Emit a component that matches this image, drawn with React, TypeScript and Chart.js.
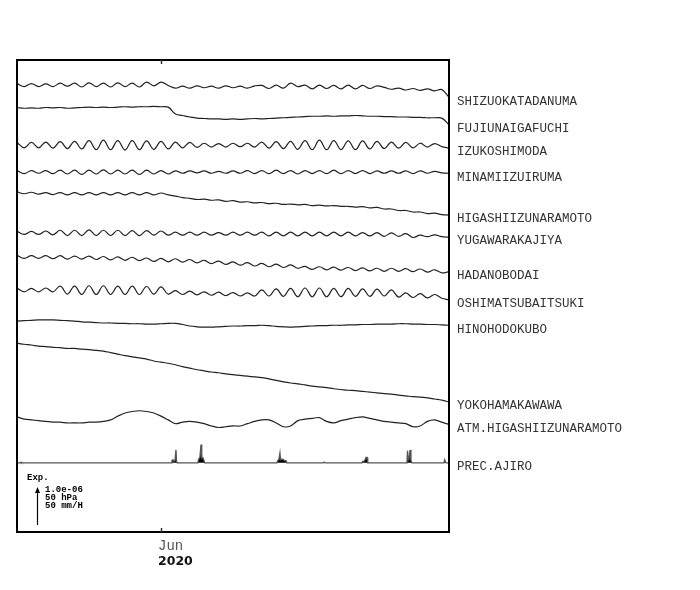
import React, { useEffect, useRef } from "react";
import { Chart, registerables } from "chart.js";

Chart.register(...registerables);

// Time axis: days relative to 1 June 2020, sampled every half day
const days = [
  -10, -9.5, -9, -8.5, -8, -7.5, -7, -6.5, -6, -5.5,
  -5, -4.5, -4, -3.5, -3, -2.5, -2, -1.5, -1, -0.5,
  0, 0.5, 1, 1.5, 2, 2.5, 3, 3.5, 4, 4.5,
  5, 5.5, 6, 6.5, 7, 7.5, 8, 8.5, 9, 9.5,
  10, 10.5, 11, 11.5, 12, 12.5, 13, 13.5, 14, 14.5,
  15, 15.5, 16, 16.5, 17, 17.5, 18, 18.5, 19, 19.5,
  20,
];

const monthTicks = [{ value: 0, label: "Jun" }];
const yearLabel = "2020";

const stationNames = [
  "SHIZUOKATADANUMA",
  "FUJIUNAIGAFUCHI",
  "IZUKOSHIMODA",
  "MINAMIIZUIRUMA",
  "HIGASHIIZUNARAMOTO",
  "YUGAWARAKAJIYA",
  "HADANOBODAI",
  "OSHIMATSUBAITSUKI",
  "HINOHODOKUBO",
  "YOKOHAMAKAWAWA",
  "ATM.HIGASHIIZUNARAMOTO",
  "PREC.AJIRO",
];

// Strain changes, in units of 1e-8
const shizuoka = [4, -4, 4, -4, 3, -4, 5, -3, 5, -5, 6, -4, 5, -5, 6, -4, 5, -5, 8, -2, 8, -1, -8, -3, -8, -2, -7, -3, -8, -2, -7, -3, -8, -2, -1, -9, 0, -8, 5, -4, 0, -10, 0, -9, -1, -10, 0, -10, -1, -9, -2, -6, -11, -8, -13, -9, -14, -10, -15, -12, -32];
const fujiunai = [1, -1, 0, -1, 1, 0, 1, -1, 0, 1, 2, 1, 2, 1, 2, 3, 2, 3, 3, 4, 3, 2, -16, -20, -24, -27, -28, -29, -29, -30, -29, -30, -29, -28, -29, -28, -27, -26, -25, -24, -23, -22, -22, -21, -22, -21, -21, -20, -21, -22, -22, -23, -23, -24, -24, -25, -25, -26, -26, -27, -45];
const izukoshimoda = [7, -7, 7, -7, 8, -8, 9, -9, 10, -10, 12, -12, 13, -12, 12, -13, 12, -12, 11, -11, 10, -10, 8, -7, 7, -6, 5, -5, 4, -5, 5, -4, 5, -5, 8, -8, 9, -9, 10, -11, 12, -12, 13, -12, 12, -12, 11, -12, 11, -10, 10, -9, 8, -8, 7, -7, 5, -5, 4, -4, -8];
const minamiizu = [4, -4, 4, -3, 4, -4, 5, -5, 5, -6, 5, -5, 6, -5, 5, -5, 5, -6, 5, -5, 4, -5, 3, -3, 3, -2, 3, -3, 2, -3, 3, -3, 4, -4, 4, -4, 5, -4, 4, -5, 4, -4, 4, -4, 5, -4, 4, -4, 4, -4, 3, -3, 3, -3, 3, -4, 3, -3, 2, -2, -3];
const higashiizu = [5, 0, 4, -1, 3, -2, 3, -3, 3, -3, 3, -3, 3, -3, 3, -3, 3, -3, 3, -3, 2, -3, -6, -10, -12, -15, -14, -17, -16, -20, -18, -22, -21, -24, -23, -26, -25, -28, -27, -29, -28, -31, -30, -32, -31, -33, -33, -35, -34, -37, -36, -40, -40, -44, -44, -48, -48, -52, -51, -55, -56];
const yugawara = [4, -4, 4, -4, 5, -5, 7, -7, 7, -7, 8, -7, 7, -7, 7, -7, 6, -7, 6, -6, 5, -6, 2, -6, 2, -6, 2, -6, 1, -6, 2, -6, 2, -6, 2, -8, 2, -8, 2, -8, 2, -8, 2, -8, 2, -8, 2, -8, 1, -8, 1, -9, 0, -9, -2, -12, -6, -10, -5, -10, -11];
const hadano = [4, -4, 3, -4, 3, -5, 3, -6, 2, -6, 2, -7, 1, -8, 0, -9, -1, -10, -3, -12, -4, -13, -5, -14, -7, -16, -9, -18, -11, -20, -13, -22, -15, -24, -17, -26, -19, -28, -21, -30, -25, -33, -26, -34, -27, -35, -28, -36, -29, -37, -30, -38, -30, -38, -31, -39, -32, -40, -34, -42, -39];
const oshima = [5, -5, 4, -5, 5, -5, 10, -11, 10, -12, 11, -12, 11, -12, 10, -12, 10, -12, 9, -11, 8, -11, -2, -12, -3, -13, -5, -14, -6, -15, -7, -16, -8, -16, 0, -16, 3, -17, 4, -18, 5, -18, 5, -18, 4, -18, 4, -17, 3, -17, 2, -16, 0, -19, -8, -20, -10, -21, -12, -22, -26];
const hinohodokubo = [0, 1, 2, 3, 3, 3, 2, 1, 0, -2, -3, -4, -5, -5, -6, -6, -7, -7, -8, -8, -7, -6, -6, -9, -13, -15, -16, -16, -15, -14, -13, -13, -12, -12, -11, -12, -14, -15, -16, -15, -14, -13, -12, -12, -11, -11, -10, -10, -9, -9, -8, -8, -8, -7, -7, -8, -8, -9, -9, -10, -11];
const yokohama = [0, -3, -5, -8, -9, -11, -12, -14, -14, -16, -17, -19, -21, -25, -29, -33, -36, -39, -42, -47, -50, -53, -57, -62, -66, -70, -73, -76, -78, -81, -83, -85, -87, -89, -91, -94, -98, -102, -105, -107, -110, -113, -115, -117, -120, -122, -124, -125, -127, -129, -131, -133, -134, -137, -139, -141, -142, -144, -147, -150, -155];

// Atmospheric pressure change, hPa
const atmPressure = [0, -3, -4, -5, -6, -7, -7, -8, -8, -8, -7, -7, -6, -4, 1, 5, 7, 8, 7, 5, 1, -4, -9, -7, -6, -7, -9, -12, -14, -13, -12, -12, -9, -6, -4, -4, -8, -13, -12, -5, -3, -2, -1, -6, -8, -5, -3, -1, 0, -2, -4, -6, -7, -8, -9, -13, -12, -6, -4, -7, -10];

// Precipitation, mm/H (time in days from 1 June)
const precipDays = [-10, -9.76, -9.72, -9.68, 0.7, 0.76, 0.83, 0.9, 0.97, 1.04, 1.08, 1.12, 2.55, 2.62, 2.7, 2.78, 2.83, 2.9, 2.97, 3.03, 8.05, 8.1, 8.18, 8.26, 8.3, 8.4, 8.5, 8.6, 8.68, 8.73, 11.28, 11.32, 11.4, 13.95, 14.0, 14.1, 14.17, 14.24, 14.31, 14.36, 17.08, 17.12, 17.18, 17.24, 17.3, 17.36, 17.42, 19.65, 19.7, 19.76, 19.8, 20];
const precipValues = [0, 0, 1, 0, 0, 3, 4, 2, 3, 17, 2, 0, 0, 5, 7, 24, 6, 7, 4, 0, 0, 3, 4, 13, 4, 5, 4, 3, 3, 0, 0, 1, 0, 0, 2, 2, 4, 7, 7, 0, 0, 16, 4, 6, 17, 3, 0, 0, 4, 1, 0, 0];

// Scale bar: one unit on the value axis = 1.0e-06 strain = 50 hPa = 50 mm/H
const strainPerUnit = 100; // 1e-8 units per 1e-6
const hPaPerUnit = 50;
const mmPerUnit = 50;
const scaleTexts = ["1.0e-06", "50 hPa", "50 mm/H"];

// Baseline of each trace on the value axis (units of the scale bar)
const traceBaselines = [11.76, 11.16, 10.18, 9.47, 8.9, 7.87, 7.24, 6.37, 5.55, 4.97, 3.03, 1.82];
const axisMax = 12.42;

const strainSeries = [shizuoka, fujiunai, izukoshimoda, minamiizu, higashiizu, yugawara, hadano, oshima, hinohodokubo, yokohama];

export default function App() {
  const canvasRef = useRef<HTMLCanvasElement | null>(null);

  useEffect(() => {
    document.body.style.margin = "0";
    const canvas = canvasRef.current;
    if (!canvas) return;

    const datasets: any[] = [];
    strainSeries.forEach((vals, i) => {
      datasets.push({
        label: stationNames[i],
        data: vals.map((v, k) => ({ x: days[k], y: traceBaselines[i] + v / strainPerUnit })),
        borderColor: "#222",
        borderWidth: 1.2,
        pointRadius: 0,
        tension: 0.4,
        fill: false,
      });
    });
    datasets.push({
      label: stationNames[10],
      data: atmPressure.map((v, k) => ({ x: days[k], y: traceBaselines[10] + v / hPaPerUnit })),
      borderColor: "#222",
      borderWidth: 1.2,
      pointRadius: 0,
      tension: 0.3,
      fill: false,
    });
    datasets.push({
      label: stationNames[11],
      data: precipValues.map((v, k) => ({ x: precipDays[k], y: traceBaselines[11] + v / mmPerUnit })),
      borderColor: "#555",
      borderWidth: 1.3,
      backgroundColor: "#000",
      pointRadius: 0,
      tension: 0,
      fill: { value: traceBaselines[11] },
    });

    const overlay = {
      id: "overlay",
      afterDraw(chart: any) {
        const { ctx, chartArea: a, scales } = chart;
        const xs = scales.x;
        const ys = scales.y;
        ctx.save();
        // frame
        ctx.strokeStyle = "#000";
        ctx.lineWidth = 2;
        ctx.strokeRect(a.left, a.top, a.right - a.left, a.bottom - a.top);

        // month ticks (inside) and labels
        monthTicks.forEach((t) => {
          const px = Math.round(xs.getPixelForValue(t.value)) + 0.5;
          ctx.strokeStyle = "#333";
          ctx.lineWidth = 1.5;
          ctx.beginPath();
          ctx.moveTo(px, a.top);
          ctx.lineTo(px, a.top + 4);
          ctx.moveTo(px, a.bottom);
          ctx.lineTo(px, a.bottom - 4);
          ctx.stroke();
          ctx.fillStyle = "#555";
          ctx.textAlign = "left";
          ctx.textBaseline = "middle";
          ctx.font = "14px 'Liberation Mono', monospace";
          ctx.fillText(t.label, px - 3.5, a.bottom + 14);
          ctx.font = "bold 12.5px 'DejaVu Sans', sans-serif";
          ctx.fillStyle = "#111";
          ctx.fillText(yearLabel, px - 3.5, a.bottom + 29.5);
        });

        // station labels at the level of each trace's last value
        ctx.font = "12.5px 'Liberation Mono', monospace";
        ctx.fillStyle = "#333";
        ctx.textAlign = "left";
        ctx.textBaseline = "middle";
        chart.data.datasets.forEach((ds: any) => {
          const last = ds.data[ds.data.length - 1];
          const py = ys.getPixelForValue(last.y) + 4;
          ctx.fillText(ds.label, a.right + 8, py);
        });

        // scale legend
        const unitPx = ys.getPixelForValue(0) - ys.getPixelForValue(1);
        const ax = a.left + 20.5;
        const aBottom = a.bottom - 7;
        const aTop = aBottom - unitPx;
        ctx.strokeStyle = "#000";
        ctx.lineWidth = 1.2;
        ctx.beginPath();
        ctx.moveTo(ax, aBottom);
        ctx.lineTo(ax, aTop + 4);
        ctx.stroke();
        ctx.fillStyle = "#000";
        ctx.beginPath();
        ctx.moveTo(ax, aTop);
        ctx.lineTo(ax - 2.5, aTop + 6);
        ctx.lineTo(ax + 2.5, aTop + 6);
        ctx.closePath();
        ctx.fill();

        ctx.font = "bold 9px 'Liberation Mono', monospace";
        ctx.textBaseline = "middle";
        ctx.fillText("Exp.", a.left + 10, aTop - 9);
        scaleTexts.forEach((s, i) => {
          ctx.fillText(s, a.left + 28, aTop + 3 + i * 7.8);
        });
        ctx.restore();
      },
    };

    const chart = new Chart(canvas, {
      type: "line",
      data: { datasets },
      options: {
        animation: false,
        responsive: false,
        maintainAspectRatio: false,
        events: [],
        layout: { padding: { left: 17, top: 60, right: 251, bottom: 58 } },
        plugins: { legend: { display: false }, tooltip: { enabled: false } },
        scales: {
          x: { type: "linear", min: -10, max: 20, display: false },
          y: { type: "linear", min: 0, max: axisMax, display: false },
        },
      },
      plugins: [overlay],
    } as any);

    return () => chart.destroy();
  }, []);

  return (
    <div style={{ width: 700, height: 590, background: "#fff" }}>
      <canvas ref={canvasRef} width={700} height={590} />
    </div>
  );
}
